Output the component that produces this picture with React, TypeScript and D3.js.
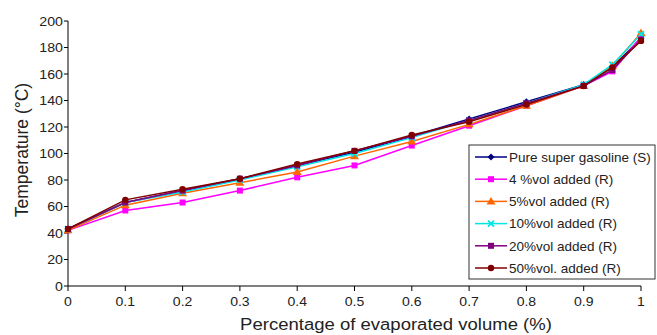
import React from "react";
import * as d3 from "d3";

const xValues = [0, 0.1, 0.2, 0.3, 0.4, 0.5, 0.6, 0.7, 0.8, 0.9, 0.95, 1];
const pure = [43, 63, 72, 81, 91, 101, 113, 126, 139, 152, 165, 187];
const vol4 = [42, 57, 63, 72, 82, 91, 106, 121, 136, 151, 162, 188];
const vol5 = [42, 61, 70, 78, 86, 98, 109, 122, 136, 151, 166, 191];
const vol10 = [43, 63, 71, 80, 90, 100, 112, 125, 138, 152, 167, 190];
const vol20 = [43, 63, 72, 81, 91, 102, 113, 125, 138, 151, 163, 186];
const vol50 = [43, 65, 73, 81, 92, 102, 114, 124, 137, 151, 165, 185];

const seriesNames = [
  "Pure super gasoline (S)",
  "4 %vol added (R)",
  "5%vol added (R)",
  "10%vol added (R)",
  "20%vol added (R)",
  "50%vol. added (R)",
];
const xTicks = [0, 0.1, 0.2, 0.3, 0.4, 0.5, 0.6, 0.7, 0.8, 0.9, 1];
const yTicks = [0, 20, 40, 60, 80, 100, 120, 140, 160, 180, 200];

const series = [
  { name: seriesNames[0], values: pure, color: "#000080", marker: "diamond" },
  { name: seriesNames[1], values: vol4, color: "#ff00ff", marker: "square" },
  { name: seriesNames[2], values: vol5, color: "#ff6600", marker: "triangle" },
  { name: seriesNames[3], values: vol10, color: "#00e5e5", marker: "x" },
  { name: seriesNames[4], values: vol20, color: "#800080", marker: "square" },
  { name: seriesNames[5], values: vol50, color: "#800000", marker: "circle" },
];

const FONT = "'Liberation Sans', Arial, sans-serif";

function SText({
  x,
  y,
  children,
  size,
  anchor = "start",
  sx = 1,
  dy,
}: {
  x: number;
  y: number;
  children: React.ReactNode;
  size: number;
  anchor?: string;
  sx?: number;
  dy?: string;
}) {
  return (
    <text
      transform={`translate(${x},${y}) scale(${sx},1)`}
      textAnchor={anchor}
      fontSize={size}
      fill="#222"
      dy={dy}
    >
      {children}
    </text>
  );
}

function Marker({ type, x, y, color }: { type: string; x: number; y: number; color: string }) {
  if (type === "diamond") {
    const s = 3.5;
    return <path d={`M${x},${y - s}L${x + s},${y}L${x},${y + s}L${x - s},${y}Z`} fill={color} />;
  }
  if (type === "square") {
    return <rect x={x - 3} y={y - 3} width={6} height={6} fill={color} />;
  }
  if (type === "triangle") {
    return <path d={`M${x},${y - 4.5}L${x + 4.5},${y + 3}L${x - 4.5},${y + 3}Z`} fill={color} />;
  }
  if (type === "x") {
    const s = 3;
    return (
      <path
        d={`M${x - s},${y - s}L${x + s},${y + s}M${x - s},${y + s}L${x + s},${y - s}`}
        stroke={color}
        strokeWidth={1.8}
      />
    );
  }
  return <circle cx={x} cy={y} r={3.2} fill={color} />;
}

export default function App() {
  const width = 657;
  const height = 335;
  const x = d3.scaleLinear().domain([0, 1]).range([68, 641]);
  const y = d3.scaleLinear().domain([0, 200]).range([286, 21]);
  const line = d3
    .line<number>()
    .x((_, i) => x(xValues[i]))
    .y((d) => y(d));

  const legendX = 469;
  const legendY = 145;
  const legendRow = 22.2;

  return (
    <svg
      width={width}
      height={height}
      style={{ position: "absolute", left: 0, top: 0, background: "#fff" }}
      fontFamily={FONT}
    >
      {/* axes */}
      <line x1={x(0)} x2={x(0)} y1={y(200)} y2={y(0)} stroke="#000" strokeWidth={1} />
      <line x1={x(0)} x2={x(1)} y1={y(0)} y2={y(0)} stroke="#000" strokeWidth={1} />
      {yTicks.map((t) => (
        <g key={"y" + t}>
          <line x1={x(0) - 4} x2={x(0)} y1={y(t)} y2={y(t)} stroke="#000" />
          <SText x={x(0) - 5} y={y(t)} dy="0.36em" anchor="end" size={13.5} sx={1.05}>
            {t}
          </SText>
        </g>
      ))}
      {xTicks.map((t) => (
        <g key={"x" + t}>
          <line x1={x(t)} x2={x(t)} y1={y(0)} y2={y(0) + 5} stroke="#000" />
          <SText x={x(t)} y={y(0) + 20} anchor="middle" size={13.5} sx={1.04}>
            {t}
          </SText>
        </g>
      ))}
      <text
        transform={`translate(28,150) rotate(-90)`}
        textAnchor="middle"
        fontSize={17.5}
        fill="#222"
      >
        Temperature (°C)
      </text>
      <SText x={396} y={330} anchor="middle" size={17} sx={1.09}>
        Percentage of evaporated volume (%)
      </SText>

      {/* series */}
      {series.map((s) => (
        <g key={s.name}>
          <path d={line(s.values) || ""} fill="none" stroke={s.color} strokeWidth={1.5} />
          {s.values.map((v, i) => (
            <Marker key={i} type={s.marker} x={x(xValues[i])} y={y(v)} color={s.color} />
          ))}
        </g>
      ))}

      {/* legend */}
      <rect
        x={legendX}
        y={legendY}
        width={186}
        height={134}
        fill="#fff"
        stroke="#333"
        strokeWidth={1}
      />
      {series.map((s, i) => {
        const cy = legendY + 12 + i * legendRow;
        return (
          <g key={"lg" + s.name}>
            <line x1={475} x2={507} y1={cy} y2={cy} stroke={s.color} strokeWidth={1.5} />
            <Marker type={s.marker} x={491} y={cy} color={s.color} />
            <SText x={509} y={cy} dy="0.36em" size={13.5} sx={1.0}>
              {s.name}
            </SText>
          </g>
        );
      })}
    </svg>
  );
}
